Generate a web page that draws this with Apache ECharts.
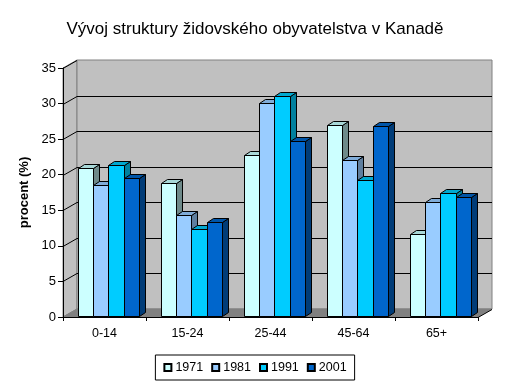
<!DOCTYPE html>
<html>
<head>
<meta charset="utf-8">
<script src="https://cdn.jsdelivr.net/npm/echarts@6/dist/echarts.min.js"></script>
<style>html,body{margin:0;padding:0;background:#fff}#c{width:510px;height:385px}</style>
</head>
<body>
<div id="c"></div>
<script>
var categories = ['0-14', '15-24', '25-44', '45-64', '65+'];
var years = ['1971', '1981', '1991', '2001'];
var v1971 = [21.0, 18.9, 22.8, 27.0, 11.7];
var v1981 = [18.6, 14.4, 30.1, 22.0, 16.1];
var v1991 = [21.3, 12.3, 31.1, 19.3, 17.5];
var v2001 = [19.6, 13.4, 24.7, 26.8, 16.9];
var yTicks = [0, 5, 10, 15, 20, 25, 30, 35];
var titleText = 'Vývoj struktury židovského obyvatelstva v Kanadě';
var yName = 'procent (%)';

var seriesValues = [v1971, v1981, v1991, v2001];
var frontColors = ['#CCFFFF', '#99CCFF', '#00CCFF', '#0066CC'];
var topColors = ['#A8D8D8', '#80ACD8', '#00A8D0', '#0055A8'];
var sideColors = ['#6E8A8A', '#5E7E9E', '#00809E', '#003C78'];
var FONT = 'Liberation Sans, Arial, sans-serif';
var WDX = 14, WDY = -8; // wall depth
var BDX = 6, BDY = -4;  // bar depth

var chart = echarts.init(document.getElementById('c'));

function wallsRender(params, api) {
  var cs = params.coordSys;
  var x0 = cs.x, x1 = cs.x + cs.width, yT = cs.y, yB = cs.y + cs.height;
  var ch = [];
  ch.push({type: 'polygon', shape: {points: [[x0, yT], [x0 + WDX, yT + WDY], [x0 + WDX, yB + WDY], [x0, yB]]},
    style: {fill: '#C0C0C0', stroke: '#808080', lineWidth: 1}});
  ch.push({type: 'rect', shape: {x: x0 + WDX, y: yT + WDY, width: cs.width, height: cs.height},
    style: {fill: '#C0C0C0', stroke: '#808080', lineWidth: 1}});
  ch.push({type: 'polygon', shape: {points: [[x0, yB], [x0 + WDX, yB + WDY], [x1 + WDX, yB + WDY], [x1, yB]]},
    style: {fill: '#808080', stroke: '#808080', lineWidth: 1}});
  for (var i = 1; i < yTicks.length; i++) {
    var y = Math.round(api.coord([0, yTicks[i]])[1]) + 0.5;
    if (i < yTicks.length - 1) {
      ch.push({type: 'line', shape: {x1: x0 + WDX, y1: y + WDY, x2: x1 + WDX, y2: y + WDY},
        style: {stroke: '#000', lineWidth: 1}});
    }
    ch.push({type: 'line', shape: {x1: x0, y1: y, x2: x0 + WDX, y2: y + WDY},
      style: {stroke: '#000', lineWidth: 1}});
  }
  ch.push({type: 'line', shape: {x1: x1, y1: yB + 0.5, x2: x1 + WDX, y2: yB + WDY + 0.5},
    style: {stroke: '#000', lineWidth: 1}});
  return {type: 'group', children: ch};
}

function makeBarRender(k) {
  return function (params, api) {
    var cat = api.value(0), val = api.value(1);
    var c = api.coord([cat, val]);
    var b = api.coord([cat, 0]);
    var band = api.size([1, 0])[0];
    var w = 0.182 * band;
    var left = Math.round(c[0] - band / 2 + 0.183 * band + k * w) + 0.5;
    var right = Math.round(c[0] - band / 2 + 0.183 * band + (k + 1) * w) + 0.5;
    var top = Math.round(c[1]) + 0.5;
    var bottom = Math.round(b[1]) - 1 + 0.5;
    var st = {stroke: '#000', lineWidth: 1, lineJoin: 'miter'};
    return {type: 'group', children: [
      {type: 'polygon', shape: {points: [[right, top], [right + BDX, top + BDY], [right + BDX, bottom + BDY], [right, bottom]]},
        style: Object.assign({fill: sideColors[k]}, st)},
      {type: 'polygon', shape: {points: [[left, top], [left + BDX, top + BDY], [right + BDX, top + BDY], [right, top]]},
        style: Object.assign({fill: topColors[k]}, st)},
      {type: 'rect', shape: {x: left, y: top, width: right - left, height: bottom - top},
        style: Object.assign({fill: frontColors[k]}, st)}
    ]};
  };
}

var series = [{
  type: 'custom', name: '_walls', renderItem: wallsRender, data: [[0, 0]], z: 1, silent: true,
  clip: false, encode: {x: 0, y: 1}
}];
for (var k = 0; k < years.length; k++) {
  series.push({
    type: 'custom', name: years[k], renderItem: makeBarRender(k), z: 2 + k, clip: false,
    itemStyle: {color: frontColors[k], borderColor: '#000', borderWidth: 1},
    encode: {x: 0, y: 1},
    data: seriesValues[k].map(function (v, i) { return [i, v]; })
  });
}

chart.setOption({
  animation: false,
  backgroundColor: '#fff',
  title: {text: titleText, left: 'center', top: 16,
    textStyle: {fontFamily: FONT, fontSize: 17, fontWeight: 'normal', color: '#000'}},
  legend: {data: years, bottom: 5, left: 'center', icon: 'rect', itemWidth: 7, itemHeight: 7, itemGap: 8,
    borderColor: '#000', borderWidth: 1, padding: [6, 8, 6, 8], borderRadius: 0,
    textStyle: {fontFamily: FONT, fontSize: 12.5, color: '#000', padding: [0, 0, 0, -1]}},
  grid: {left: 63, right: 32, top: 68, bottom: 68, containLabel: false},
  xAxis: {type: 'category', data: categories, boundaryGap: true, z: 10,
    axisLine: {lineStyle: {color: '#000', width: 1}},
    axisTick: {show: true, length: 4, lineStyle: {color: '#000'}},
    axisLabel: {fontFamily: FONT, fontSize: 12.5, color: '#000', margin: 10},
    splitLine: {show: false}},
  yAxis: {type: 'value', min: 0, max: 35, interval: 5, z: 10,
    name: yName, nameLocation: 'middle', nameRotate: 90, nameGap: 29,
    nameTextStyle: {fontFamily: FONT, fontSize: 13, fontWeight: 'bold', color: '#000'},
    axisLine: {show: true, lineStyle: {color: '#000', width: 1}},
    axisTick: {show: true, length: 5, lineStyle: {color: '#000'}},
    axisLabel: {fontFamily: FONT, fontSize: 13, color: '#000', margin: 7},
    splitLine: {show: false}},
  series: series
});
</script>
</body>
</html>
